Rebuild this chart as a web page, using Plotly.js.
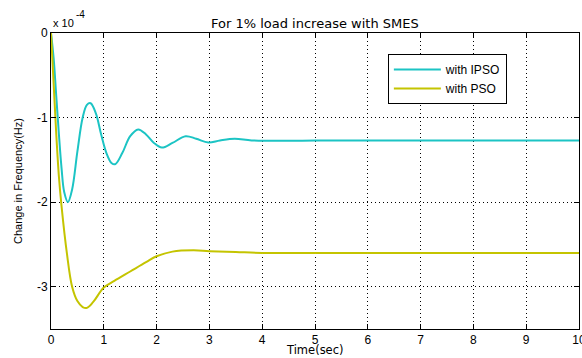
<!DOCTYPE html>
<html>
<head>
<meta charset="utf-8">
<script src="https://cdn.plot.ly/plotly-3.0.1.min.js"></script>
<style>html,body{margin:0;padding:0;background:#fff;}#chart{width:582px;height:358px;}</style>
</head>
<body>
<div id="chart"></div>
<script>
// values in units of 1e-4 Hz
var tIPSO = [0, 0.05, 0.1, 0.15, 0.2, 0.25, 0.32, 0.4, 0.5, 0.6, 0.68, 0.75, 0.85, 0.95, 1.05, 1.15, 1.22, 1.35, 1.5, 1.65, 1.8, 1.95, 2.1, 2.3, 2.55, 2.75, 2.98, 3.2, 3.48, 3.8, 4.5, 5, 6, 7, 8, 9, 10];
var yIPSO = [0, -0.3, -0.75, -1.2, -1.6, -1.88, -2.0, -1.85, -1.4, -1.0, -0.85, -0.83, -0.95, -1.2, -1.42, -1.54, -1.55, -1.42, -1.22, -1.14, -1.2, -1.3, -1.355, -1.3, -1.22, -1.25, -1.295, -1.27, -1.25, -1.27, -1.275, -1.27, -1.27, -1.27, -1.27, -1.27, -1.27];
var tPSO = [0, 0.05, 0.1, 0.15, 0.2, 0.3, 0.4, 0.5, 0.6, 0.68, 0.8, 1.0, 1.2, 1.5, 1.8, 2.0, 2.3, 2.7, 3.0, 3.5, 4, 5, 6, 7, 8, 9, 10];
var yPSO = [0, -0.6, -1.2, -1.7, -2.05, -2.6, -3.0, -3.17, -3.24, -3.25, -3.18, -3.01, -2.93, -2.82, -2.71, -2.64, -2.585, -2.57, -2.58, -2.59, -2.6, -2.6, -2.6, -2.6, -2.6, -2.6, -2.6];
var xTicks = [0,1,2,3,4,5,6,7,8,9,10];
var yTicks = [0,-1,-2,-3];
var names = ['with IPSO', 'with PSO'];
var colors = ['#1cc4c4', '#c4c400'];

var fam = 'Liberation Sans, Arial, sans-serif';
var wide = 'DejaVu Sans, sans-serif';
var font = {family: fam, size: 12, color: '#000'};
var traces = [
  {x: tIPSO, y: yIPSO, name: names[0], mode: 'lines', line: {color: colors[0], width: 2, shape: 'spline', smoothing: 1}},
  {x: tPSO, y: yPSO, name: names[1], mode: 'lines', line: {color: colors[1], width: 2, shape: 'spline', smoothing: 1}}
];
var axisCommon = {
  showline: true, linecolor: '#000', linewidth: 1, mirror: 'ticks',
  ticks: 'inside', ticklen: 5, tickcolor: '#000',
  showgrid: true, gridcolor: '#000', griddash: '1px,3px', gridwidth: 1,
  zeroline: false, tickfont: font, ticklabeloverflow: 'allow'
};
var layout = {
  width: 582, height: 358,
  margin: {l: 51, r: 3, t: 33, b: 28.5},
  paper_bgcolor: '#fff', plot_bgcolor: '#fff',
  font: font,
  showlegend: true,
  legend: {x: 0.638, y: 0.929, xanchor: 'left', yanchor: 'top', bordercolor: '#000', borderwidth: 1, bgcolor: '#fff',
    font: {family: fam, size: 12, color: '#000'}, tracegroupgap: 0, itemwidth: 47},
  xaxis: Object.assign({}, axisCommon, {range: [0, 10], tickvals: xTicks, ticktext: xTicks.map(String)}),
  yaxis: Object.assign({}, axisCommon, {range: [-3.5, 0], tickvals: yTicks, ticktext: yTicks.map(String),
    title: {text: 'Change in Frequency(Hz)', font: {family: fam, size: 11, color: '#000'}, standoff: 12}}),
  annotations: [
    {xref: 'paper', yref: 'paper', x: 0.5, y: 1, yshift: 19, text: 'For 1% load increase with SMES', showarrow: false, font: {family: wide, size: 13, color: '#000'}},
    {xref: 'paper', yref: 'paper', x: 0.5, y: 0, yanchor: 'bottom', yshift: -28.5, borderpad: 0, text: 'Time(sec)', showarrow: false, font: {family: wide, size: 11.5, color: '#000'}},
    {xref: 'paper', yref: 'paper', x: 0, y: 1, xanchor: 'left', yanchor: 'middle', xshift: 0, yshift: 10, text: 'x 10', showarrow: false, font: {family: fam, size: 11, color: '#000'}},
    {xref: 'paper', yref: 'paper', x: 0, y: 1, xanchor: 'left', yanchor: 'middle', xshift: 23, yshift: 19, text: '-4', showarrow: false, font: {family: fam, size: 10, color: '#000'}}
  ]
};
Plotly.newPlot('chart', traces, layout, {displayModeBar: false, staticPlot: true});
</script>
</body>
</html>
